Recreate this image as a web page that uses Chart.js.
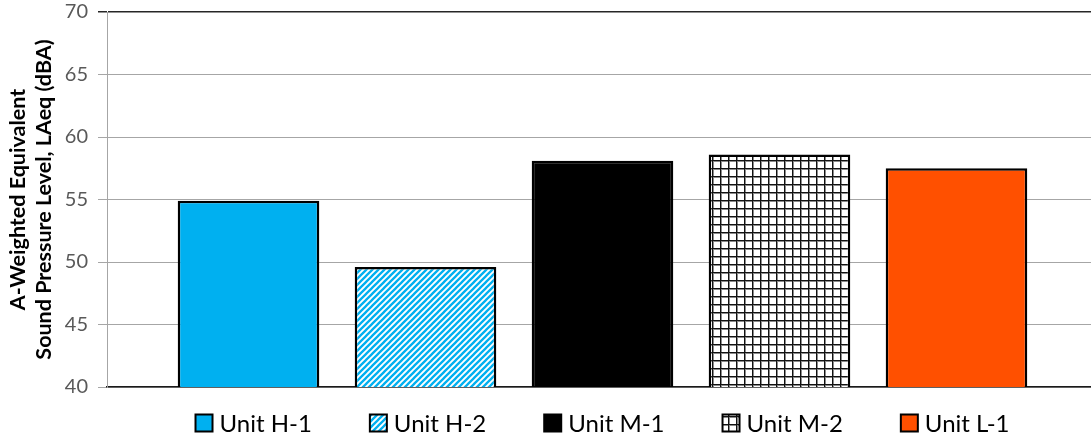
<!DOCTYPE html>
<html><head><meta charset="utf-8">
<script src="https://cdn.jsdelivr.net/npm/chart.js@4"></script>
<style>html,body{margin:0;padding:0;overflow:hidden;background:#fff}
#wrap{width:1098px;height:440px;position:relative}</style>
</head><body><div id="wrap"><canvas id="c"></canvas></div>
<script>
const categories = [''];
const seriesNames = ['Unit H-1', 'Unit H-2', 'Unit M-1', 'Unit M-2', 'Unit L-1'];
const seriesValues = [54.9, 49.6, 58.1, 58.6, 57.5];
const yMin = 40, yMax = 70, yStep = 5;
const axisTitle = ['A-Weighted Equivalent', 'Sound Pressure Level, LAeq (dBA)'];

const FONT = 'Lato, "Open Sans", sans-serif';

function stripePattern(color) {
  const n = 6, c = document.createElement('canvas');
  c.width = n; c.height = n;
  const g = c.getContext('2d');
  g.fillStyle = '#fff'; g.fillRect(0, 0, n, n);
  g.strokeStyle = color; g.lineWidth = 2.3;
  g.beginPath();
  g.moveTo(-1, n + 1); g.lineTo(n + 1, -1);
  g.moveTo(-1, 1); g.lineTo(1, -1);
  g.moveTo(n - 1, n + 1); g.lineTo(n + 1, n - 1);
  g.stroke();
  return g.createPattern(c, 'repeat');
}
function gridPattern(color) {
  const n = 8, c = document.createElement('canvas');
  c.width = n; c.height = n;
  const g = c.getContext('2d');
  g.fillStyle = '#fff'; g.fillRect(0, 0, n, n);
  g.fillStyle = '#8a8a8a';
  g.fillRect(0, 1, n, 1); g.fillRect(1, 0, 1, n);
  g.fillStyle = color;
  g.fillRect(0, 0, n, 1); g.fillRect(0, 0, 1, n);
  return g.createPattern(c, 'repeat');
}
const fills = [
  '#00B0F0',
  stripePattern('#00B0F0'),
  '#000000',
  gridPattern('#111111'),
  '#FF5000'
];

const legendPlugin = {
  id: 'customLegend',
  afterDraw(chart) {
    const ctx = chart.ctx, ca = chart.chartArea;
    ctx.save();
    ctx.font = '24px ' + FONT;
    const box = 17, gapText = 7, gapItem = 58;
    const items = chart.data.datasets.map(ds => ({ ds, w: box + gapText + ctx.measureText(ds.label).width }));
    const total = items.reduce((a, b) => a + b.w, 0) + gapItem * (items.length - 1);
    let x = (ca.left + ca.right) / 2 - total / 2;
    const cy = chart.height - 17;
    items.forEach(it => {
      ctx.fillStyle = it.ds.backgroundColor;
      ctx.fillRect(x, cy - box / 2, box, box);
      ctx.strokeStyle = '#000'; ctx.lineWidth = 2;
      ctx.strokeRect(x, cy - box / 2, box, box);
      ctx.fillStyle = '#000';
      ctx.textBaseline = 'middle';
      ctx.textAlign = 'left';
      ctx.fillText(it.ds.label, x + box + gapText, cy + 1);
      x += it.w + gapItem;
    });
    ctx.restore();
  }
};

new Chart(document.getElementById('c'), {
  type: 'bar',
  data: {
    labels: categories,
    datasets: seriesNames.map((name, i) => ({
      label: name,
      data: [seriesValues[i]],
      backgroundColor: fills[i],
      borderColor: '#000',
      borderWidth: 2.5,
      categoryPercentage: 0.893,
      barPercentage: 0.8
    }))
  },
  options: {
    responsive: true,
    maintainAspectRatio: false,
    animation: false,
    layout: { padding: { top: 12, right: 0, left: 0, bottom: 0 } },
    plugins: { legend: { display: false }, tooltip: { enabled: false } },
    scales: {
      x: {
        grid: { display: false },
        ticks: { display: false },
        border: { color: '#1a1a1a', width: 1.5 },
        afterFit: s => { s.height = 53; }
      },
      y: {
        min: yMin, max: yMax,
        ticks: { stepSize: yStep, color: '#595959', font: { family: FONT, size: 20 }, padding: 10 },
        grid: {
          color: c => (c.tick && c.tick.value === yMax) ? '#262626' : '#A6A6A6',
          lineWidth: c => (c.tick && c.tick.value === yMax) ? 1.5 : 1,
          tickLength: 9
        },
        border: { color: '#A6A6A6', width: 1 },
        title: {
          display: true, text: axisTitle, color: '#000',
          font: { family: FONT, size: 21.5, weight: 'bold', lineHeight: 1.22 },
          padding: { top: 5, bottom: 0 }
        },
        afterFit: s => { s.width = 107; s.paddingTop = 0; s.paddingBottom = 0; }
      }
    }
  },
  plugins: [legendPlugin]
});
</script>
</body></html>
